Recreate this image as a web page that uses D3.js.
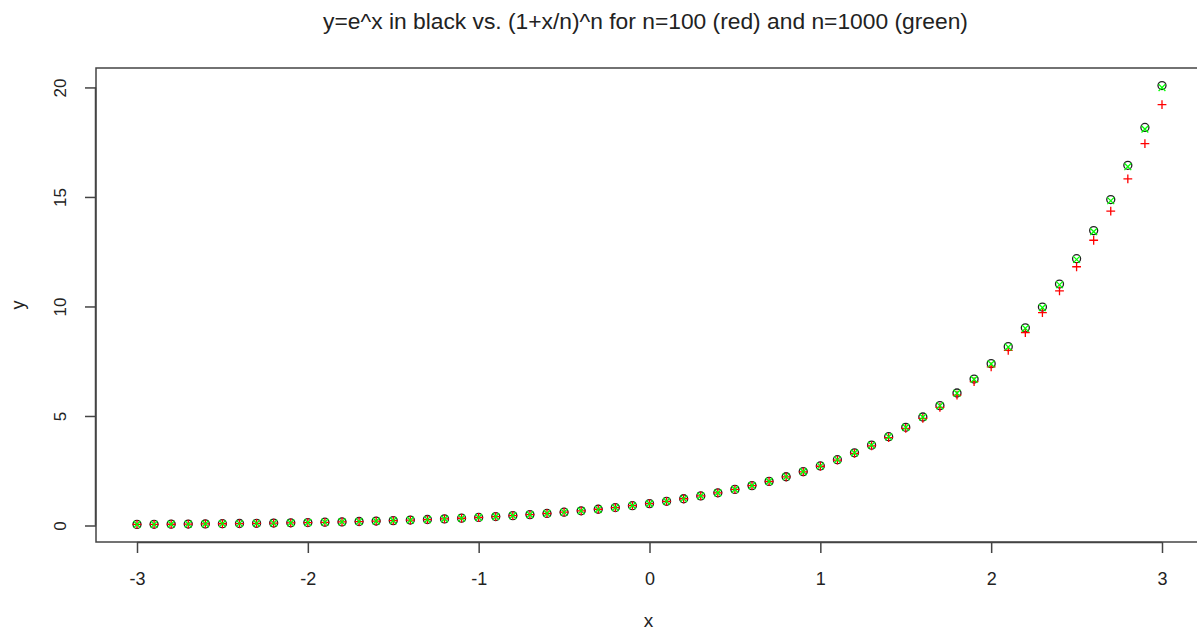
<!DOCTYPE html>
<html>
<head>
<meta charset="utf-8">
<script src="https://cdn.jsdelivr.net/npm/d3@7"></script>
<style>
  body { margin: 0; background: #fff; }
  svg text { font-family: "Liberation Sans", Arial, sans-serif; fill: #222; }
</style>
</head>
<body>
<svg id="chart" width="1197" height="631"></svg>
<script>
const xs = [-3, -2.9, -2.8, -2.7, -2.6, -2.5, -2.4, -2.3, -2.2, -2.1, -2, -1.9, -1.8, -1.7, -1.6, -1.5, -1.4, -1.3, -1.2, -1.1, -1,
  -0.9, -0.8, -0.7, -0.6, -0.5, -0.4, -0.3, -0.2, -0.1, 0, 0.1, 0.2, 0.3, 0.4, 0.5, 0.6, 0.7, 0.8, 0.9, 1,
  1.1, 1.2, 1.3, 1.4, 1.5, 1.6, 1.7, 1.8, 1.9, 2, 2.1, 2.2, 2.3, 2.4, 2.5, 2.6, 2.7, 2.8, 2.9, 3];

// black circles: e^x
const expY = [0.050, 0.055, 0.061, 0.067, 0.074, 0.082, 0.091, 0.100, 0.111, 0.122, 0.135,
  0.150, 0.165, 0.183, 0.202, 0.223, 0.247, 0.273, 0.301, 0.333, 0.368,
  0.407, 0.449, 0.497, 0.549, 0.607, 0.670, 0.741, 0.819, 0.905, 1.000,
  1.105, 1.221, 1.350, 1.492, 1.649, 1.822, 2.014, 2.226, 2.460, 2.718,
  3.004, 3.320, 3.669, 4.055, 4.482, 4.953, 5.474, 6.050, 6.686, 7.389,
  8.166, 9.025, 9.974, 11.023, 12.182, 13.464, 14.880, 16.445, 18.174, 20.086];

// red plus: n = 100
const n100Y = [0.048, 0.053, 0.058, 0.065, 0.072, 0.080, 0.088, 0.098, 0.108, 0.120, 0.133,
  0.147, 0.163, 0.180, 0.199, 0.221, 0.244, 0.270, 0.299, 0.331, 0.366,
  0.405, 0.448, 0.495, 0.548, 0.606, 0.670, 0.741, 0.819, 0.905, 1.000,
  1.105, 1.221, 1.349, 1.491, 1.647, 1.819, 2.009, 2.218, 2.450, 2.705,
  2.986, 3.296, 3.639, 4.016, 4.432, 4.891, 5.396, 5.954, 6.568, 7.245,
  7.991, 8.812, 9.718, 10.715, 11.814, 13.024, 14.356, 15.824, 17.439, 19.218];

// green x: n = 1000
const n1000Y = [0.050, 0.055, 0.061, 0.067, 0.074, 0.082, 0.091, 0.100, 0.111, 0.122, 0.135,
  0.149, 0.165, 0.182, 0.202, 0.223, 0.246, 0.272, 0.301, 0.333, 0.368,
  0.406, 0.449, 0.497, 0.549, 0.606, 0.670, 0.741, 0.819, 0.905, 1.000,
  1.105, 1.221, 1.350, 1.492, 1.648, 1.822, 2.013, 2.225, 2.458, 2.717,
  3.002, 3.318, 3.666, 4.051, 4.477, 4.947, 5.466, 6.040, 6.674, 7.374,
  8.148, 9.003, 9.948, 10.992, 12.144, 13.418, 14.826, 16.380, 18.098, 19.996];

const xTicks = [-3, -2, -1, 0, 1, 2, 3];
const yTicks = [0, 5, 10, 15, 20];

const svg = d3.select("#chart");
const plot = { left: 96, right: 1203, top: 68, bottom: 542 };
const font = "Liberation Sans, Arial, sans-serif";

// R style 4% padding on both ends
const xExt = d3.extent(xs);
const xPad = (xExt[1] - xExt[0]) * 0.04;
const yExt = d3.extent(expY.concat(n100Y, n1000Y));
const yPad = (yExt[1] - yExt[0]) * 0.04;

const x = d3.scaleLinear().domain([xExt[0] - xPad, xExt[1] + xPad]).range([plot.left, plot.right]);
const y = d3.scaleLinear().domain([yExt[0] - yPad, yExt[1] + yPad]).range([plot.bottom, plot.top]);

// box
svg.append("rect")
  .attr("x", plot.left).attr("y", plot.top)
  .attr("width", plot.right - plot.left).attr("height", plot.bottom - plot.top)
  .attr("fill", "none").attr("stroke", "#444").attr("stroke-width", 1.5);

const xAxis = d3.axisBottom(x).tickValues(xTicks).tickSize(11).tickPadding(19).tickFormat((d) => String(d));
const gx = svg.append("g")
  .attr("class", "axis")
  .attr("transform", `translate(0,${plot.bottom})`)
  .call(xAxis);
gx.select(".domain").attr("d", `M${x(-3)},0.5H${x(3)}`).attr("stroke", "#444").attr("stroke-width", 1.5);
gx.selectAll(".tick line").attr("stroke", "#444").attr("stroke-width", 1.5);
gx.selectAll(".tick text").attr("font-size", 18).style("font-family", font).attr("fill", "#222");

const yAxis = d3.axisLeft(y).tickValues(yTicks).tickSize(11).tickFormat((d) => String(d));
const gy = svg.append("g")
  .attr("class", "axis")
  .attr("transform", `translate(${plot.left},0)`)
  .call(yAxis);
gy.select(".domain").attr("d", `M-0.5,${y(0)}V${y(20)}`).attr("stroke", "#444").attr("stroke-width", 1.5);
gy.selectAll(".tick line").attr("stroke", "#444").attr("stroke-width", 1.5);
gy.selectAll(".tick text")
  .attr("font-size", 17).style("font-family", font).attr("fill", "#222")
  .attr("x", 0).attr("dy", null)
  .attr("text-anchor", "middle")
  .attr("dominant-baseline", "central")
  .attr("transform", "translate(-36,0) rotate(-90)");

// titles
svg.append("text")
  .attr("x", (plot.left + plot.right) / 2 - 4).attr("y", 29)
  .attr("text-anchor", "middle").attr("font-size", 22.8)
  .text("y=e^x in black vs. (1+x/n)^n for n=100 (red) and n=1000 (green)");
svg.append("text")
  .attr("x", (plot.left + plot.right) / 2 - 1).attr("y", 627)
  .attr("text-anchor", "middle").attr("font-size", 19)
  .text("x");
svg.append("text")
  .attr("transform", `translate(24,${(plot.top + plot.bottom) / 2}) rotate(-90)`)
  .attr("text-anchor", "middle").attr("font-size", 18)
  .text("y");

// points
const pts = svg.append("g");
pts.selectAll("circle.e").data(xs).join("circle")
  .attr("class", "e")
  .attr("cx", (d) => x(d)).attr("cy", (d, i) => y(expY[i]))
  .attr("r", 4)
  .attr("fill", "none").attr("stroke", "#222").attr("stroke-width", 1.3);

const s = 4.4;
pts.selectAll("path.n100").data(xs).join("path")
  .attr("class", "n100")
  .attr("d", (d, i) => {
    const cx = x(d), cy = y(n100Y[i]);
    return `M${cx - s},${cy}H${cx + s}M${cx},${cy - s}V${cy + s}`;
  })
  .attr("stroke", "#ff0000").attr("stroke-width", 1.3);

const t = 3.4;
pts.selectAll("path.n1000").data(xs).join("path")
  .attr("class", "n1000")
  .attr("d", (d, i) => {
    const cx = x(d), cy = y(n1000Y[i]);
    return `M${cx - t},${cy - t}L${cx + t},${cy + t}M${cx - t},${cy + t}L${cx + t},${cy - t}`;
  })
  .attr("stroke", "#00ff00").attr("stroke-width", 1.3);
</script>
</body>
</html>
